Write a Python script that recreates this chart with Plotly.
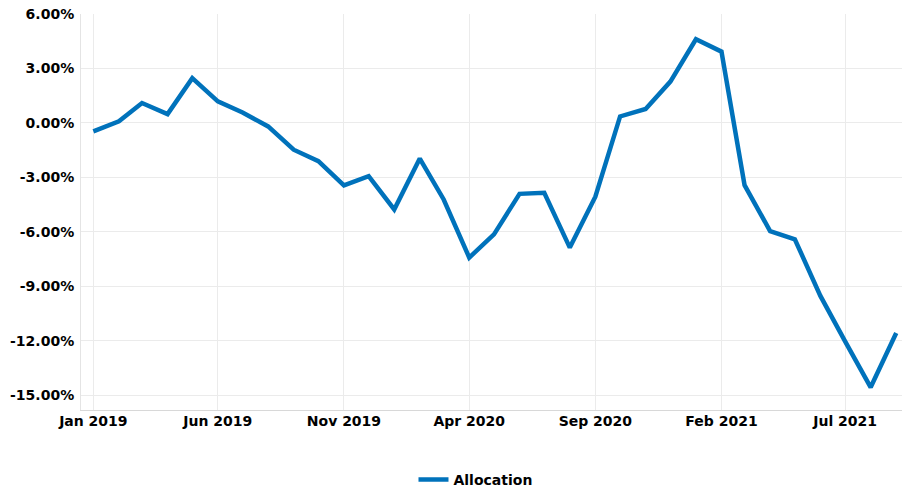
import plotly.graph_objects as go

dates = ["2019-01-01", "2019-02-01", "2019-03-01", "2019-04-01", "2019-05-01", "2019-06-01",
         "2019-07-01", "2019-08-01", "2019-09-01", "2019-10-01", "2019-11-01", "2019-12-01",
         "2020-01-01", "2020-02-01", "2020-03-01", "2020-04-01", "2020-05-01", "2020-06-01",
         "2020-07-01", "2020-08-01", "2020-09-01", "2020-10-01", "2020-11-01", "2020-12-01",
         "2021-01-01", "2021-02-01", "2021-03-01", "2021-04-01", "2021-05-01", "2021-06-01",
         "2021-07-01", "2021-08-01", "2021-09-01"]
allocation = [-0.46, 0.09, 1.10, 0.49, 2.47, 1.19,
              0.58, -0.19, -1.47, -2.10, -3.44, -2.93,
              -4.76, -1.96, -4.21, -7.41, -6.13, -3.90,
              -3.84, -6.86, -4.06, 0.36, 0.77, 2.28,
              4.61, 3.93, -3.42, -5.95, -6.40, -9.52,
              -12.02, -14.55, -11.56]

series_name = "Allocation"
y_ticks = [6, 3, 0, -3, -6, -9, -12, -15]
y_tick_labels = ["6.00%", "3.00%", "0.00%", "-3.00%", "-6.00%", "-9.00%", "-12.00%", "-15.00%"]

font_family = "DejaVu Sans"
tick_font = dict(family=font_family, size=14, color="black", weight="bold")

fig = go.Figure()
fig.add_trace(go.Scatter(
    x=dates, y=allocation, mode="lines", name=series_name,
    line=dict(color="#0072BB", width=4.5),
))

fig.update_layout(
    width=902, height=490,
    margin=dict(l=81, r=0, t=14, b=80),
    paper_bgcolor="white", plot_bgcolor="white",
    font=dict(family=font_family, size=14, color="black"),
    showlegend=True,
    legend=dict(orientation="h", x=0.4805, xanchor="center",
                yref="container", y=1 - 480 / 490, yanchor="middle",
                font=tick_font),
    xaxis=dict(
        type="date",
        range=["2018-12-17", "2021-09-08"],
        tick0="2019-01-01", dtick="M5", tickformat="%b %Y",
        showgrid=True, gridcolor="#ebebeb", gridwidth=1,
        showline=True, linecolor="#d8d8d8", linewidth=1,
        ticks="", tickfont=tick_font, ticklabelstandoff=-2,
        zeroline=False,
    ),
    yaxis=dict(
        range=[-15.8, 6.0],
        tickvals=y_ticks, ticktext=y_tick_labels,
        showgrid=True, gridcolor="#ebebeb", gridwidth=1,
        showline=True, linecolor="#e4e4e4", linewidth=1,
        zeroline=False, ticks="", ticklabelstandoff=3,
        tickfont=tick_font,
    ),
)

fig.write_html("out.html", config={"displayModeBar": False},
               post_script="document.body.style.margin='0';")
